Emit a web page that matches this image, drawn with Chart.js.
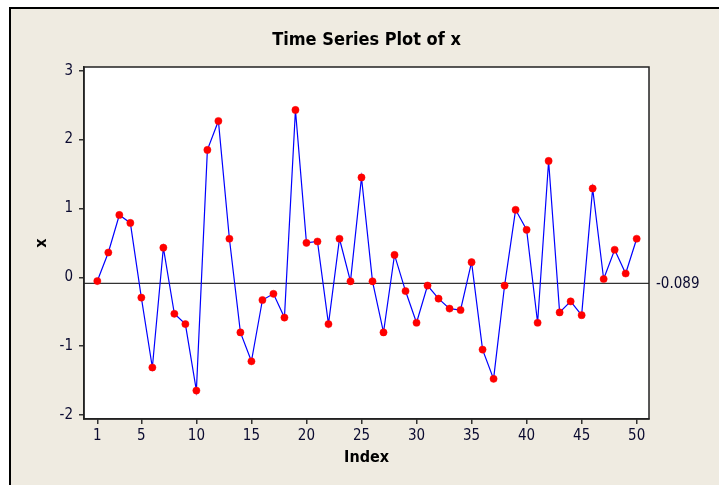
<!DOCTYPE html>
<html>
<head>
<meta charset="utf-8">
<script src="https://cdn.jsdelivr.net/npm/chart.js@4.4.1/dist/chart.umd.min.js"></script>
<style>
  html, body { margin: 0; padding: 0; background: #ffffff; }
  #wrap { width: 719px; height: 485px; }
</style>
</head>
<body>
<div id="wrap"><canvas id="c" width="719" height="485"></canvas></div>
<script>
const TITLE = 'Time Series Plot of x';
const X_TITLE = 'Index';
const Y_TITLE = 'x';
const INDEX = [1,2,3,4,5,6,7,8,9,10,11,12,13,14,15,16,17,18,19,20,21,22,23,24,25,26,27,28,29,30,31,32,33,34,35,36,37,38,39,40,41,42,43,44,45,46,47,48,49,50];
const X_VALUES = [-0.055, 0.36, 0.905, 0.79, -0.295, -1.31, 0.43, -0.53, -0.68, -1.645,
                  1.85, 2.27, 0.56, -0.80, -1.22, -0.33, -0.24, -0.585, 2.43, 0.50,
                  0.52, -0.68, 0.56, -0.058, 1.45, -0.058, -0.80, 0.325, -0.20, -0.66,
                  -0.12, -0.31, -0.455, -0.475, 0.22, -1.05, -1.475, -0.12, 0.98, 0.69,
                  -0.66, 1.69, -0.51, -0.35, -0.55, 1.29, -0.025, 0.40, 0.055, 0.56];
const X_TICKS = [1, 5, 10, 15, 20, 25, 30, 35, 40, 45, 50];
const Y_TICKS = [-2, -1, 0, 1, 2, 3];
const MEDIAN = -0.089;
const MEDIAN_LABEL = '-0.089';

const FAMILY = '"DejaVu Sans Condensed", "DejaVu Sans", sans-serif';
const BEIGE = '#EFEBE1';
const TICK_COLOR = '#0a0a30';

const decor = {
  id: 'decor',
  beforeDraw(chart) {
    const {ctx, width, height, chartArea: a} = chart;
    ctx.save();
    ctx.fillStyle = '#ffffff';
    ctx.fillRect(0, 0, width, height);
    ctx.fillStyle = BEIGE;
    ctx.fillRect(9, 7, width - 9, height - 7);
    ctx.strokeStyle = '#000000';
    ctx.lineWidth = 2;
    ctx.beginPath();
    ctx.moveTo(10, height);
    ctx.lineTo(10, 8);
    ctx.lineTo(width, 8);
    ctx.stroke();
    ctx.fillStyle = '#ffffff';
    ctx.fillRect(a.left, a.top, a.right - a.left, a.bottom - a.top);
    ctx.restore();
  },
  beforeDatasetsDraw(chart) {
    const {ctx, chartArea: a, scales} = chart;
    const y = scales.y.getPixelForValue(MEDIAN);
    ctx.save();
    ctx.strokeStyle = '#333333';
    ctx.lineWidth = 1.2;
    ctx.beginPath();
    ctx.moveTo(a.left, y);
    ctx.lineTo(a.right, y);
    ctx.stroke();
    ctx.restore();
  },
  afterDraw(chart) {
    const {ctx, chartArea: a, scales} = chart;
    ctx.save();
    ctx.strokeStyle = '#222222';
    ctx.lineWidth = 1.5;
    ctx.strokeRect(a.left, a.top, a.right - a.left, a.bottom - a.top);
    const y = scales.y.getPixelForValue(MEDIAN);
    ctx.fillStyle = TICK_COLOR;
    ctx.font = '15px ' + FAMILY;
    ctx.textAlign = 'left';
    ctx.textBaseline = 'middle';
    ctx.fillText(MEDIAN_LABEL, a.right + 7, y + 1);
    ctx.restore();
  }
};

const tickFont = {family: FAMILY, size: 15};
const points = INDEX.map((i, k) => ({x: i, y: X_VALUES[k]}));

new Chart(document.getElementById('c'), {
  type: 'line',
  data: {
    datasets: [{
      data: points,
      borderColor: '#0000ff',
      borderWidth: 1.2,
      tension: 0,
      pointRadius: 3.6,
      pointBackgroundColor: '#ff0000',
      pointBorderColor: '#ff0000',
      pointBorderWidth: 0.5
    }]
  },
  options: {
    responsive: false,
    animation: false,
    devicePixelRatio: 1,
    layout: {padding: {left: 0, right: 70, top: 0, bottom: 0}},
    plugins: {
      legend: {display: false},
      tooltip: {enabled: false},
      title: {
        display: true,
        text: TITLE,
        fullSize: false,
        color: '#000000',
        font: {family: FAMILY, size: 18, weight: 'bold', lineHeight: 1.2},
        padding: {top: 29.7, bottom: 15.7}
      }
    },
    scales: {
      x: {
        type: 'linear',
        min: -0.21,
        max: 51.12,
        afterBuildTicks: s => { s.ticks = X_TICKS.map(v => ({value: v})); },
        afterFit: s => { s.height = 66; },
        grid: {drawOnChartArea: false, drawTicks: true, tickLength: 5, color: '#333333', lineWidth: 1.5},
        border: {display: true, color: '#222222', width: 1.5},
        ticks: {padding: 3, font: tickFont, color: TICK_COLOR, autoSkip: false, maxRotation: 0,
                callback: v => String(v)},
        title: {display: true, text: X_TITLE, color: '#000000',
                font: {family: FAMILY, size: 16, weight: 'bold', lineHeight: 1.2},
                padding: {top: 0, bottom: 17.4}}
      },
      y: {
        type: 'linear',
        min: -2.058,
        max: 3.054,
        afterBuildTicks: s => { s.ticks = Y_TICKS.map(v => ({value: v})); },
        afterFit: s => { s.width = 84; },
        grid: {drawOnChartArea: false, drawTicks: true, tickLength: 5, color: '#333333', lineWidth: 1.5},
        border: {display: true, color: '#222222', width: 1.5},
        ticks: {padding: 6, font: tickFont, color: TICK_COLOR, autoSkip: false,
                callback: v => String(v)},
        title: {display: true, text: Y_TITLE, color: '#000000',
                font: {family: FAMILY, size: 16, weight: 'bold', lineHeight: 1.2},
                padding: {top: 32.4, bottom: 0}}
      }
    }
  },
  plugins: [decor]
});
</script>
</body>
</html>
